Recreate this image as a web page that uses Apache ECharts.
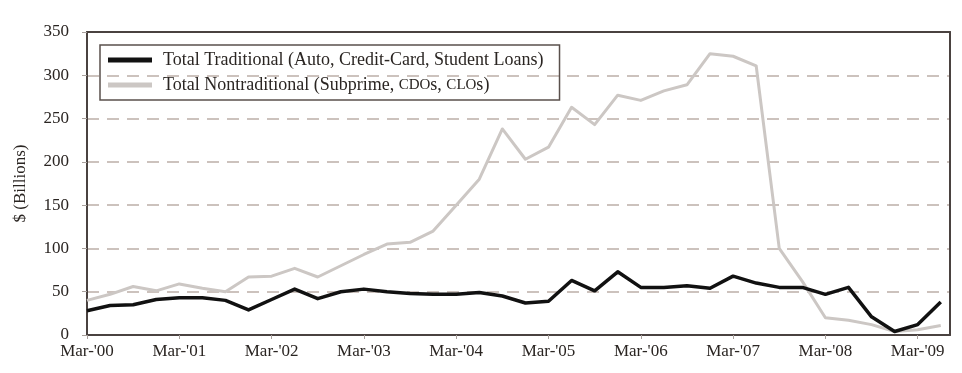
<!DOCTYPE html>
<html>
<head>
<meta charset="utf-8">
<script src="https://cdn.jsdelivr.net/npm/echarts@6/dist/echarts.min.js"></script>
<style>
  html, body { margin: 0; padding: 0; background: #ffffff; }
  #chart { width: 962px; height: 373px; }
</style>
</head>
<body>
<div id="chart"></div>
<script>
// Quarterly periods, Mar-'00 through Jun-'09
const quarters = [
  "Mar-'00", "Jun-'00", "Sep-'00", "Dec-'00",
  "Mar-'01", "Jun-'01", "Sep-'01", "Dec-'01",
  "Mar-'02", "Jun-'02", "Sep-'02", "Dec-'02",
  "Mar-'03", "Jun-'03", "Sep-'03", "Dec-'03",
  "Mar-'04", "Jun-'04", "Sep-'04", "Dec-'04",
  "Mar-'05", "Jun-'05", "Sep-'05", "Dec-'05",
  "Mar-'06", "Jun-'06", "Sep-'06", "Dec-'06",
  "Mar-'07", "Jun-'07", "Sep-'07", "Dec-'07",
  "Mar-'08", "Jun-'08", "Sep-'08", "Dec-'08",
  "Mar-'09", "Jun-'09"
];

// Issuance, $ billions
const traditional = [
  28, 34, 35, 41, 43, 43, 40, 29,
  41, 53, 42, 50, 53, 50, 48, 47,
  47, 49, 45, 37, 39, 63, 51, 73,
  55, 55, 57, 54, 68, 60, 55, 55,
  47, 55, 21, 4, 12, 38
];
const nontraditional = [
  40, 47, 56, 51, 59, 54, 50, 67,
  68, 77, 67, 80, 93, 105, 107, 120,
  150, 180, 238, 203, 217, 263, 243, 277,
  271, 282, 289, 325, 322, 311, 100, 62,
  20, 17, 12, 4, 6, 11
];

const seriesNames = [
  'Total Traditional (Auto, Credit-Card, Student Loans)',
  'Total Nontraditional (Subprime, CDOs, CLOs)'
];
const yTicks = [0, 50, 100, 150, 200, 250, 300, 350];

const FONT = '"Liberation Serif", "DejaVu Serif", serif';
const INK = '#2a2522';
const FRAME = '#4a4240';
const toPoints = arr => arr.map((v, i) => [i, v]);

const chart = echarts.init(document.getElementById('chart'), null, { renderer: 'canvas' });

// Plain frame lines for the top and right edges of the plot
const frameAxis = { show: true, onZero: false, lineStyle: { color: FRAME, width: 2 } };

chart.setOption({
  animation: false,
  backgroundColor: '#ffffff',
  grid: { left: 87, top: 32, right: 12, bottom: 38 },
  legend: {
    orient: 'vertical',
    left: 100,
    top: 45,
    padding: [5, 16, 5, 8],
    itemGap: 5,
    itemWidth: 44,
    itemHeight: 5,
    icon: 'rect',
    borderColor: '#5a504c',
    borderWidth: 1.5,
    data: seriesNames,
    formatter: name => name.replace(/(CDO|CLO)/g, '{sc|$1}'),
    textStyle: {
      fontFamily: FONT,
      fontSize: 18,
      lineHeight: 20,
      color: INK,
      padding: [0, 0, 0, 6],
      rich: {
        sc: { fontFamily: FONT, fontSize: 15, lineHeight: 20, color: INK }
      }
    }
  },
  xAxis: [
    {
      type: 'value',
      min: 0,
      max: 37.4,
      interval: 4,
      axisLine: frameAxis,
      axisTick: { show: true, length: 4, lineStyle: { color: '#a8a09c' } },
      splitLine: { show: false },
      axisLabel: {
        showMaxLabel: false,
        margin: 8,
        fontFamily: FONT,
        fontSize: 17,
        color: INK,
        formatter: v => (Number.isInteger(v) && v % 4 === 0 && quarters[v]) ? quarters[v] : ''
      }
    },
    {
      type: 'value',
      position: 'top',
      min: 0,
      max: 37.4,
      axisLine: frameAxis,
      axisTick: { show: false },
      axisLabel: { show: false },
      splitLine: { show: false }
    }
  ],
  yAxis: [
    {
      type: 'value',
      min: yTicks[0],
      max: yTicks[yTicks.length - 1],
      interval: 50,
      name: '$ (Billions)',
      nameLocation: 'middle',
      nameGap: 58,
      nameTextStyle: { fontFamily: FONT, fontSize: 17, color: INK },
      axisLine: frameAxis,
      axisTick: { show: true, length: 5, lineStyle: { color: '#a8a09c' } },
      axisLabel: {
        margin: 18,
        fontFamily: FONT,
        fontSize: 17,
        color: INK
      },
      splitLine: {
        show: true,
        showMinLine: false,
        showMaxLine: false,
        lineStyle: { color: '#bcaea8', width: 1.5, type: [12, 8] }
      }
    },
    {
      type: 'value',
      position: 'right',
      min: yTicks[0],
      max: yTicks[yTicks.length - 1],
      axisLine: frameAxis,
      axisTick: { show: false },
      axisLabel: { show: false },
      splitLine: { show: false }
    }
  ],
  series: [
    {
      name: seriesNames[0],
      type: 'line',
      data: toPoints(traditional),
      showSymbol: false,
      lineStyle: { color: '#111111', width: 3.5, join: 'round' },
      itemStyle: { color: '#111111' },
      z: 3
    },
    {
      name: seriesNames[1],
      type: 'line',
      data: toPoints(nontraditional),
      showSymbol: false,
      lineStyle: { color: '#ccc7c4', width: 3, join: 'round' },
      itemStyle: { color: '#ccc7c4' },
      z: 2
    }
  ]
});
</script>
</body>
</html>
